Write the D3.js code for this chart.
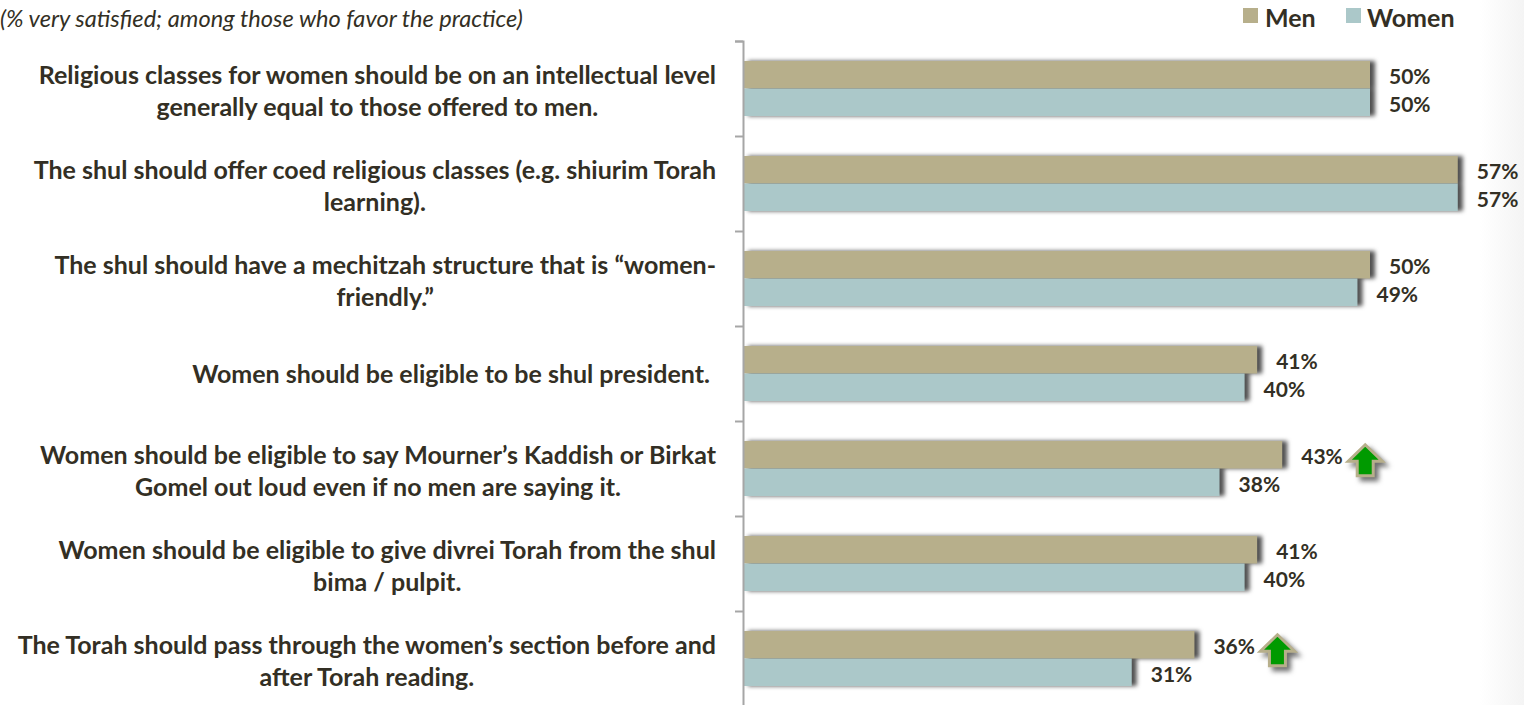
<!DOCTYPE html>
<html>
<head>
<meta charset="utf-8">
<script src="https://cdn.jsdelivr.net/npm/d3@7"></script>
<style>
  html, body { margin: 0; padding: 0; background: #fff; overflow: hidden; }
  svg { display: block; }
  text { font-family: Lato, "Open Sans", sans-serif; fill: #332f24; }
  .lab { font-weight: 700; font-size: 25px; }
  .val { font-weight: 700; font-size: 21px; }
  .sub { font-style: italic; font-size: 23.6px; }
  .axis path, .axis line { stroke: #a6a6a6; stroke-width: 2; }
</style>
</head>
<body>
<div id="chart"></div>
<script>
const categories = [
    ["Religious classes for women should be on an intellectual level", "generally equal to those offered to men."],
    ["The shul should offer coed religious classes (e.g. shiurim Torah", "learning)."],
    ["The shul should have a mechitzah structure that is \u201cwomen-", "friendly.\u201d"],
    ["Women should be eligible to be shul president.\u00a0"],
    ["Women should be eligible to say Mourner\u2019s Kaddish or Birkat", "Gomel out loud even if no men are saying it."],
    ["Women should be eligible to give divrei Torah from the shul", "bima / pulpit."],
    ["The Torah should pass through the women\u2019s section before and", "after Torah reading."]
];
const seriesNames = ["Men", "Women"];
const men = [50, 57, 50, 41, 43, 41, 36];
const women = [50, 57, 49, 40, 38, 40, 31];
const upArrows = [4, 6]; // rows where men are flagged as significantly higher

const width = 1524, height = 705;
const colors = { Men: "#b7af8b", Women: "#abc8c9" };

const svg = d3.select("#chart").append("svg")
    .attr("width", width)
    .attr("height", height);

const defs = svg.append("defs");

const bgGrad = defs.append("linearGradient").attr("id", "edge");
bgGrad.append("stop").attr("offset", "0").attr("stop-color", "#fff");
bgGrad.append("stop").attr("offset", "1").attr("stop-color", "#f4f4f4");

const shadow = defs.append("filter").attr("id", "shadow")
    .attr("color-interpolation-filters", "sRGB")
    .attr("x", "-5%").attr("y", "-30%").attr("width", "110%").attr("height", "160%");
shadow.append("feDropShadow")
    .attr("dx", 5).attr("dy", 0).attr("stdDeviation", 2.2)
    .attr("flood-color", "#333").attr("flood-opacity", 0.85);

const arrowShadow = defs.append("filter").attr("id", "arrowShadow")
    .attr("color-interpolation-filters", "sRGB")
    .attr("x", "-40%").attr("y", "-40%").attr("width", "190%").attr("height", "190%");
arrowShadow.append("feDropShadow")
    .attr("dx", 4).attr("dy", 4).attr("stdDeviation", 2.6)
    .attr("flood-color", "#333").attr("flood-opacity", 0.7);

// faint grey at the right edge of the slide
svg.append("rect")
    .attr("x", 1480).attr("y", 0)
    .attr("width", 44).attr("height", height)
    .attr("fill", "url(#edge)");

const x = d3.scaleLinear().domain([0, 60]).range([743, 1495.4]);

const rows = d3.scaleBand()
    .domain(d3.range(categories.length))
    .range([41, 706]);

const inner = d3.scaleBand()
    .domain(seriesNames)
    .range([0, rows.bandwidth()])
    .paddingInner(0)
    .paddingOuter(0.727);

// ticks sit between the categories, not on them
const edges = d3.scaleLinear().domain([0, categories.length]).range(rows.range());

const rowData = categories.map((c, i) => ({ i, lines: c, Men: men[i], Women: women[i] }));

const row = svg.selectAll(".row")
    .data(rowData)
    .enter().append("g")
    .attr("class", "row")
    .attr("transform", d => `translate(0,${rows(d.i)})`);

row.append("g")
    .attr("filter", "url(#shadow)")
    .selectAll("rect")
    .data(d => seriesNames.map(s => ({ s, v: d[s] })))
    .enter().append("rect")
    .attr("x", x(0))
    .attr("y", d => inner(d.s))
    .attr("width", d => x(d.v) - x(0))
    .attr("height", inner.bandwidth())
    .attr("fill", d => colors[d.s]);

row.selectAll(".val")
    .data(d => seriesNames.map(s => ({ s, v: d[s] })))
    .enter().append("text")
    .attr("class", "val")
    .attr("x", d => x(d.v) + 19)
    .attr("y", d => inner(d.s) + inner.bandwidth() / 2 + 9.5)
    .text(d => d.v + "%");

// category labels: lines centred on each other, block flush right
row.each(function(d) {
    const g = d3.select(this);
    const t = g.selectAll(".lab")
        .data(d.lines)
        .enter().append("text")
        .attr("class", "lab")
        .attr("text-anchor", "middle")
        .text(l => l);
    const longest = d3.max(t.nodes(), n => n.getComputedTextLength());
    const cy = rows.bandwidth() / 2 + (d.lines.length > 1 ? 11.5 : 9.5);
    t.attr("x", 716 - longest / 2)
     .attr("y", (l, j) => cy + (j - (d.lines.length - 1) / 2) * 31.5);
});

const arrowShape = [[0, -15], [17, 1.5], [8, 1.5], [8, 16], [-8, 16], [-8, 1.5], [-17, 1.5]];

svg.selectAll(".arrow")
    .data(upArrows)
    .enter().append("path")
    .attr("class", "arrow")
    .attr("transform", i => `translate(${x(men[i]) + 83},${rows(i) + inner("Men") + inner.bandwidth() / 2 + 5})`)
    .attr("d", d3.line().curve(d3.curveLinearClosed)(arrowShape))
    .attr("fill", "#009a00")
    .attr("stroke", "#b7af8b")
    .attr("stroke-width", 3)
    .attr("filter", "url(#arrowShadow)");

svg.append("g")
    .attr("class", "axis")
    .attr("transform", `translate(${x(0)},0)`)
    .call(d3.axisLeft(edges).ticks(categories.length).tickFormat("").tickSize(8).tickSizeOuter(8));

svg.append("text")
    .attr("class", "sub")
    .attr("x", 0)
    .attr("y", 27)
    .text("(% very satisfied; among those who favor the practice)");

const legend = svg.selectAll(".legend")
    .data(seriesNames)
    .enter().append("g")
    .attr("class", "legend")
    .attr("transform", (d, i) => `translate(${1243 + i * 103},8)`);

legend.append("rect")
    .attr("width", 15)
    .attr("height", 15)
    .attr("fill", d => colors[d]);

legend.append("text")
    .attr("class", "lab")
    .attr("x", d => d === "Men" ? 22 : 21)
    .attr("y", 19)
    .text(d => d);
</script>
</body>
</html>
